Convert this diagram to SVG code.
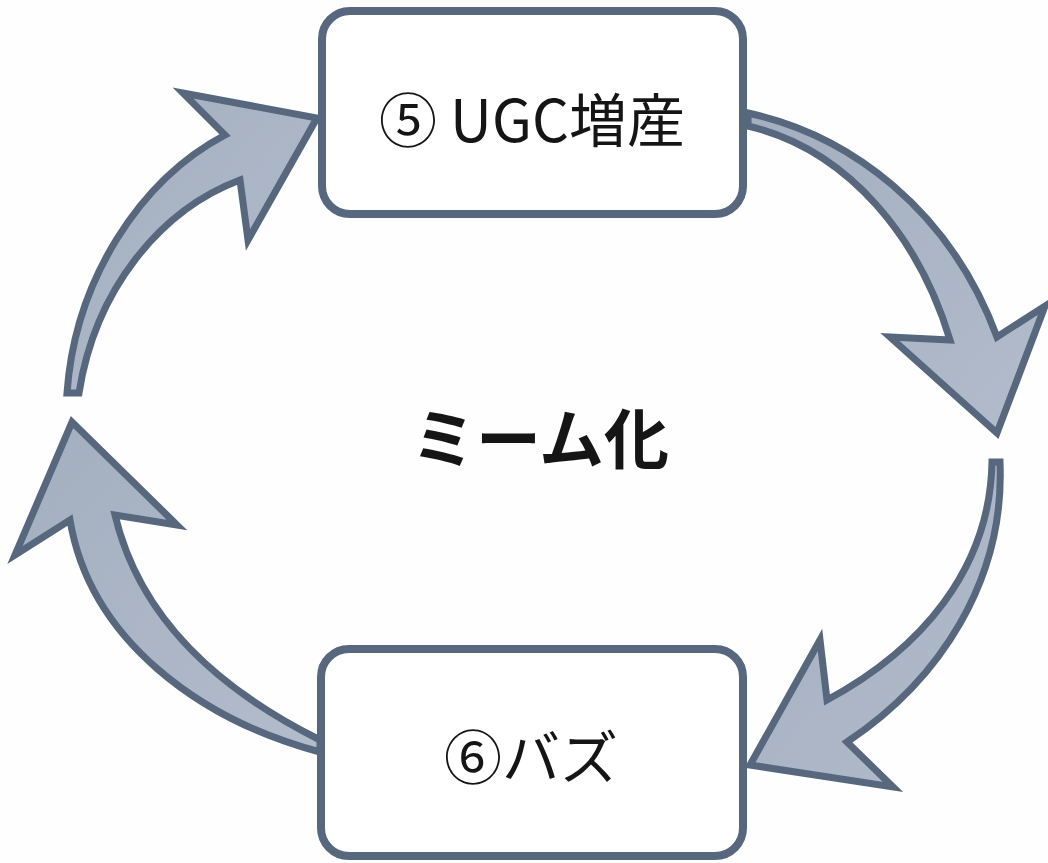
<svg xmlns="http://www.w3.org/2000/svg" width="1048" height="863" viewBox="0 0 1048 863">
  <defs>
    <linearGradient id="ag" x1="0" y1="0" x2="1" y2="1">
      <stop offset="0" stop-color="#a3aebf"/>
      <stop offset="1" stop-color="#b2bccb"/>
    </linearGradient>
  </defs>
  <style>
    .box { fill: #ffffff; stroke: #56677e; stroke-width: 8; }
    .arrow { fill: url(#ag); stroke: #56677e; stroke-width: 7; stroke-linejoin: miter; stroke-miterlimit: 10; }
    .lbl { font-family: "Noto Sans CJK JP", "Noto Sans", sans-serif; fill: #151515; text-anchor: middle; }
  </style>
  <rect width="1048" height="863" fill="#fefefe"/>
  <g id="connectors">
    <path class="arrow" d="M748,113 C850,135 950,210 997,337 L1045,306 L997,433 L890,337 L950,340 C920,240 850,150 748,126 Z"/>
    <path class="arrow" d="M1000,462 C1005,580 940,680 847,742 L893,787 L750,765 L820,640 L827,700 C920,650 990,570 992,462 Z"/>
    <path class="arrow" d="M320,752 C200,720 90,640 70,520 L15,555 L72,422 L177,525 L115,515 C140,620 220,690 320,740 Z"/>
    <path class="arrow" d="M67,393 C75,280 140,180 225,135 L183,93 L317,118 L248,240 L240,180 C160,210 95,290 79,393 Z"/>
  </g>
  <g id="node-ugc">
    <rect class="box" x="322" y="11" width="421" height="203" rx="28"/>
    <text class="lbl" x="532" y="142" font-size="58" font-weight="400">⑤ UGC増産</text>
  </g>
  <g id="node-buzz">
    <rect class="box" x="321" y="649" width="422" height="207" rx="28"/>
    <text class="lbl" x="531" y="779" font-size="58" font-weight="400">⑥バズ</text>
  </g>
  <g id="center">
    <text class="lbl" x="540" y="463" font-size="65" font-weight="700">ミーム化</text>
  </g>
</svg>
